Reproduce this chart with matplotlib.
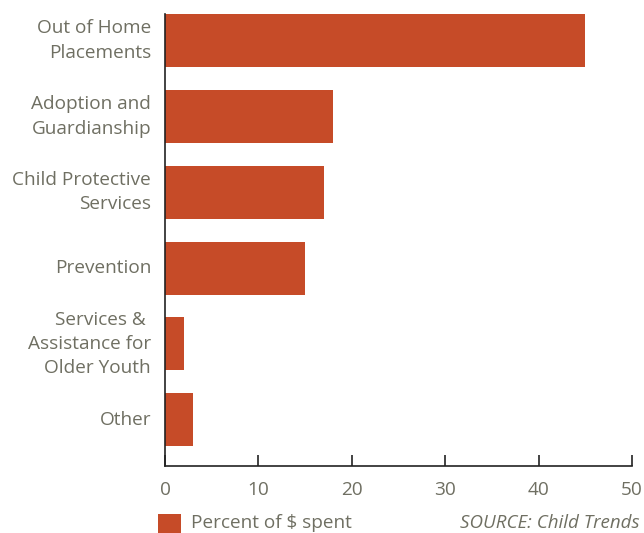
import matplotlib
matplotlib.use("Agg")
import matplotlib.pyplot as plt
from matplotlib.patches import Rectangle

categories = ["Out of Home\nPlacements", "Adoption and\nGuardianship", "Child Protective\nServices",
              "Prevention", "Services & \nAssistance for\nOlder Youth", "Other"]
values = [45, 18, 17, 15, 2, 3]
xticks = [0, 10, 20, 30, 40, 50]

BAR = "#C64B28"
TXT = "#6F6F62"
FONT = "Open Sans"

plt.rcParams['font.family'] = [FONT, 'DejaVu Sans']

fig = plt.figure(figsize=(6.44, 5.33), dpi=100)
ax = fig.add_axes([165/644, 1-466/533, (632-165)/644, (466-14)/533])

pos = list(range(len(categories)))
ax.barh(pos, values, height=0.7, color=BAR)
ax.set_ylim(5.61, -0.35)
ax.set_xlim(0, 50)
ax.set_xticks(xticks)
ax.set_xticklabels([str(t) for t in xticks])
ax.set_yticks(pos)
ax.set_yticklabels(categories, ha='right', va='center', multialignment='right', linespacing=1.45)

for s in ['top', 'right']:
    ax.spines[s].set_visible(False)
for s in ['left', 'bottom']:
    ax.spines[s].set_color('#222222')
    ax.spines[s].set_linewidth(1.2)

ax.tick_params(axis='y', length=0, pad=10, labelsize=13.7, labelcolor=TXT)
ax.tick_params(axis='x', direction='in', length=8, width=1.2, color='#222222',
               pad=11, labelsize=13.7, labelcolor=TXT)

# legend key and label (placed as in the reference, at the bottom edge)
fig.add_artist(Rectangle((158/644, -4/533), 23/644, 23/533, transform=fig.transFigure,
                         facecolor=BAR, edgecolor='none'))
fig.text(191/644, 1-528/533, "Percent of $ spent", ha='left', va='baseline',
         fontsize=13.7, color=TXT)

fig.text(640/644, 1-528/533, "SOURCE: Child Trends", ha='right', va='baseline',
         fontsize=13.5, style='italic', color=TXT)

fig.savefig("out.png", dpi=100)
